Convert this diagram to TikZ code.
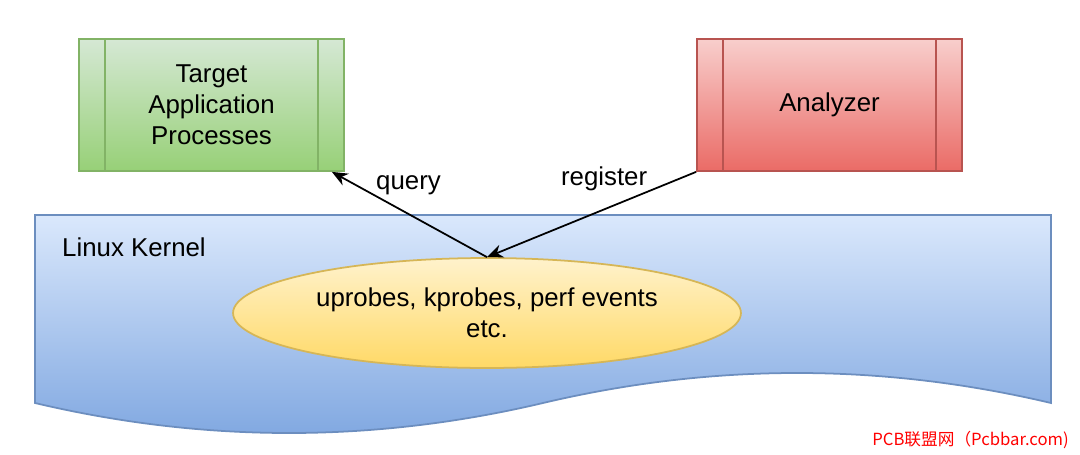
\documentclass[tikz,border=0pt]{standalone}
\usepackage{fontspec}
\setmainfont{Liberation Sans}
\newfontfamily\cjkfont{Noto Sans CJK SC}
\usetikzlibrary{shapes.geometric,arrows.meta}

\definecolor{greentop}{HTML}{D5E8D4}
\definecolor{greenbot}{HTML}{97D077}
\definecolor{greenline}{HTML}{82B366}
\definecolor{redtop}{HTML}{F8CECC}
\definecolor{redbot}{HTML}{EA6B66}
\definecolor{redline}{HTML}{B85450}
\definecolor{bluetop}{HTML}{DAE8FC}
\definecolor{bluebot}{HTML}{7EA6E0}
\definecolor{blueline}{HTML}{6C8EBF}
\definecolor{yellowtop}{HTML}{FFF2CC}
\definecolor{yellowbot}{HTML}{FFD966}
\definecolor{yellowline}{HTML}{D6B656}

\begin{document}
\begin{tikzpicture}[x=0.02cm,y=-0.02cm,
        font=\fontsize{14.7}{17.6}\selectfont,
        process/.style={draw,line width=1pt,minimum width=5.3cm,minimum height=2.64cm,align=center,inner sep=0pt},
        link/.style={-{Stealth[length=9pt,width=7.5pt]},line width=1pt}]
        \useasboundingbox (0,0) rectangle (1080,454);

        % kernel area with wavy bottom
        \draw[blueline,line width=1pt,top color=bluetop,bottom color=bluebot]
            (35,215) -- (1051,215) -- (1051,403)
            .. controls (881.7,363) and (712.3,363) .. (543,403)
            .. controls (373.7,443) and (204.3,443) .. (35,403) -- cycle;
        \node[anchor=west] (L) at (56,247) {Linux Kernel};

        \node[shape=ellipse,draw=yellowline,line width=1pt,top color=yellowtop,bottom color=yellowbot,
              minimum width=10.16cm,minimum height=2.2cm,inner sep=0pt,align=center] (E) at (487,313)
              {uprobes, kprobes, perf events\\etc.};

        \node[process,draw=greenline,top color=greentop,bottom color=greenbot] (T) at (211.5,105) {Target\\Application\\Processes};
        \node[process,draw=redline,top color=redtop,bottom color=redbot] (R) at (829.5,105) {Analyzer};
        \draw[greenline,line width=1pt] ([xshift=0.53cm]T.north west) -- ([xshift=0.53cm]T.south west);
        \draw[greenline,line width=1pt] ([xshift=-0.53cm]T.north east) -- ([xshift=-0.53cm]T.south east);
        \draw[redline,line width=1pt] ([xshift=0.53cm]R.north west) -- ([xshift=0.53cm]R.south west);
        \draw[redline,line width=1pt] ([xshift=-0.53cm]R.north east) -- ([xshift=-0.53cm]R.south east);

        \path [link] (E.north) edge node[pos=0.72,above right,inner sep=0pt]{query} ([xshift=-0.26cm]T.south east);
        \path [link] (R.south west) edge node[pos=0.23,above left,inner sep=0pt]{register} (E.north);

        \node[anchor=east,text=red,font=\cjkfont\fontsize{9.5}{11}\selectfont] (W) at (1075,440) {PCB联盟网（Pcbbar.com)};
    \end{tikzpicture}
\end{document}
